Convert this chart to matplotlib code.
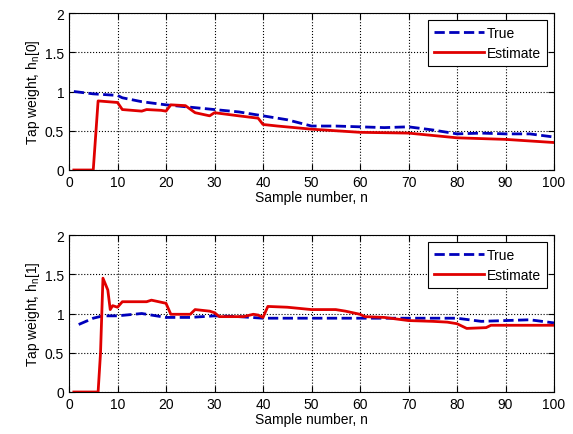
import numpy as np
import matplotlib
matplotlib.use("Agg")
import matplotlib.pyplot as plt

plt.rcParams['font.family'] = ['Liberation Sans', 'DejaVu Sans']
plt.rcParams['mathtext.fontset'] = 'custom'
plt.rcParams['mathtext.rm'] = 'Liberation Sans'

# tap 0
n_true0 = [1, 5, 10, 11, 15, 20, 25, 30, 35, 40, 45, 50, 55, 60, 65, 70, 75, 80, 85, 90, 95, 100]
true0 = [1.0, 0.97, 0.95, 0.92, 0.87, 0.83, 0.80, 0.77, 0.74, 0.69, 0.64, 0.56, 0.56, 0.55, 0.54, 0.55, 0.51, 0.46, 0.47, 0.46, 0.46, 0.42]
n_est0 = [1, 5, 6, 10, 11, 15, 16, 19, 20, 21, 24, 26, 29, 30, 35, 39, 40, 43, 50, 60, 70, 80, 90, 100]
est0 = [0.0, 0.0, 0.88, 0.86, 0.77, 0.75, 0.77, 0.76, 0.75, 0.83, 0.82, 0.73, 0.69, 0.73, 0.69, 0.66, 0.58, 0.56, 0.52, 0.48, 0.47, 0.41, 0.39, 0.35]

# tap 1
n_true1 = [2, 5, 7, 10, 15, 20, 25, 30, 35, 40, 45, 50, 60, 70, 80, 85, 90, 95, 100]
true1 = [0.86, 0.94, 0.97, 0.97, 1.0, 0.95, 0.95, 0.97, 0.96, 0.94, 0.94, 0.94, 0.94, 0.94, 0.94, 0.90, 0.91, 0.92, 0.88]
n_est1 = [1, 6, 6.5, 7, 8, 8.5, 9, 10, 11, 16, 17, 20, 21, 25, 26, 29, 30, 31, 36, 38, 39, 40, 41, 45, 50, 55, 57, 60, 61, 65, 70, 75, 78, 80, 82, 86, 87, 95, 100]
est1 = [0.0, 0.0, 0.5, 1.45, 1.3, 1.05, 1.1, 1.08, 1.15, 1.15, 1.17, 1.13, 0.99, 0.99, 1.05, 1.03, 1.01, 0.96, 0.96, 0.99, 0.98, 0.95, 1.09, 1.08, 1.05, 1.05, 1.03, 0.99, 0.96, 0.95, 0.91, 0.90, 0.89, 0.87, 0.81, 0.82, 0.85, 0.85, 0.85]

fig = plt.figure(figsize=(5.73, 4.35), dpi=100)
ax1 = fig.add_axes([69/573, 1-171/435, 485/573, 157/435])
ax2 = fig.add_axes([69/573, 1-393/435, 485/573, 157/435])

for ax, nt, tv, ne, ev, lbl in [(ax1, n_true0, true0, n_est0, est0, '0'),
                                (ax2, n_true1, true1, n_est1, est1, '1')]:
    ax.plot(nt, tv, '--', color='#0000bb', lw=2, label='True')
    ax.plot(ne, ev, '-', color='#e00000', lw=2, label='Estimate')
    ax.set_xlim(0, 100)
    ax.set_ylim(0, 2)
    ax.set_xticks(np.arange(0, 101, 10))
    ax.set_yticks([0, 0.5, 1, 1.5, 2])
    ax.set_yticklabels(['0', '0.5', '1', '1.5', '2'])
    ax.grid(True, linestyle=':', color='k', lw=0.8)
    ax.tick_params(direction='in', top=True, right=True, labelsize=10, length=4)
    ax.set_xlabel('Sample number, n', fontsize=10, labelpad=1)
    ax.set_ylabel('Tap weight, h$_\\mathregular{n}$[' + lbl + ']', fontsize=10, labelpad=2)
    leg = ax.legend(loc='upper right', fontsize=10, fancybox=False, framealpha=1,
                    edgecolor='k', handlelength=3.6, handletextpad=0.2,
                    borderaxespad=0.5, borderpad=0.45, labelspacing=0.4)
    leg.get_frame().set_linewidth(0.8)

fig.savefig('out.png', dpi=100)
